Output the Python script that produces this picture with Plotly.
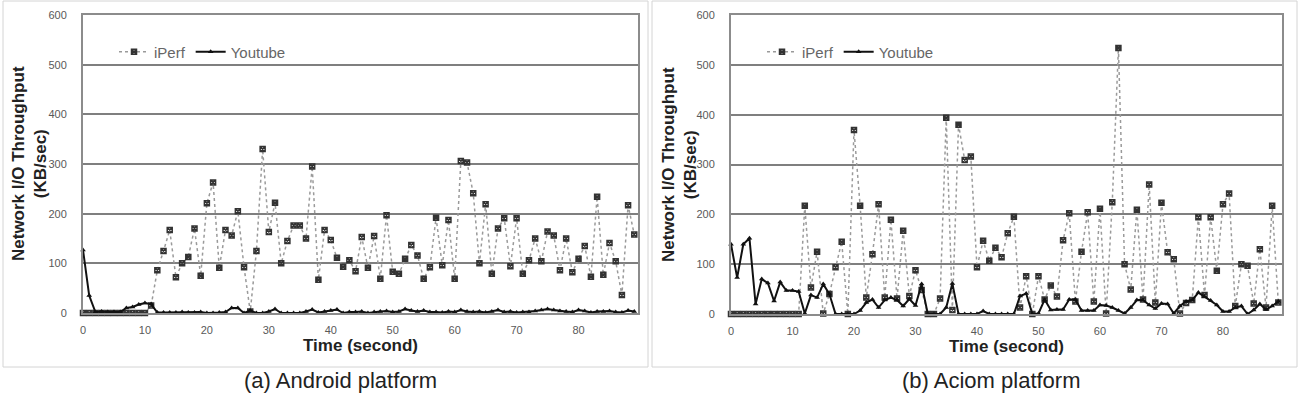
import plotly.graph_objects as go

W, H = 1305, 393

seconds = list(range(90))
x_ticks = [0, 10, 20, 30, 40, 50, 60, 70, 80]
y_ticks = [0, 100, 200, 300, 400, 500, 600]

android_iperf = [0, 0, 0, 0, 0, 0, 0, 0, 0, 0,
                 0, 15, 86, 125, 167, 72, 100, 113, 170, 75,
                 221, 263, 91, 167, 156, 205, 92, 3, 125, 330,
                 163, 222, 100, 145, 176, 176, 150, 295, 67, 167,
                 147, 111, 93, 106, 84, 153, 91, 155, 69, 197,
                 83, 79, 109, 137, 116, 69, 92, 192, 96, 187,
                 69, 306, 303, 241, 100, 219, 79, 170, 191, 94,
                 191, 79, 106, 150, 104, 164, 156, 86, 150, 82,
                 109, 135, 73, 234, 77, 141, 104, 36, 217, 158]

android_youtube = [127, 35, 2, 3, 2, 2, 2, 10, 12, 17,
                   20, 18, 1, 1, 1, 1, 2, 1, 1, 2,
                   0, 0, 1, 2, 10, 10, 0, 5, 0, 0,
                   3, 8, 0, 0, 0, 0, 3, 7, 1, 3,
                   5, 7, 0, 2, 2, 3, 0, 2, 3, 4,
                   2, 3, 8, 5, 3, 5, 2, 2, 1, 3,
                   2, 6, 3, 2, 3, 1, 3, 6, 2, 3,
                   1, 2, 2, 4, 6, 8, 6, 4, 3, 2,
                   6, 4, 1, 3, 3, 4, 2, 1, 5, 3]

aciom_iperf = [0, 0, 0, 0, 0, 0, 0, 0, 0, 0,
               0, 0, 217, 53, 125, 1, 40, 94, 145, 0,
               369, 217, 33, 120, 220, 33, 189, 31, 167, 36,
               88, 48, 0, 0, 31, 394, 8, 380, 309, 316,
               94, 147, 107, 133, 114, 162, 195, 13, 76, 0,
               76, 29, 57, 35, 148, 202, 25, 125, 204, 25,
               211, 1, 224, 534, 100, 49, 209, 29, 260, 23,
               223, 124, 110, 1, 22, 28, 194, 38, 194, 87,
               220, 242, 16, 100, 97, 21, 130, 13, 217, 23]

aciom_youtube = [140, 73, 140, 152, 20, 70, 62, 26, 64, 47,
                 47, 45, 1, 38, 33, 60, 40, 0, 0, 0,
                 0, 7, 23, 29, 13, 28, 33, 28, 16, 30,
                 17, 60, 0, 0, 0, 13, 61, 0, 0, 0,
                 0, 6, 0, 0, 0, 0, 0, 36, 41, 0,
                 1, 29, 8, 9, 9, 29, 29, 7, 7, 7,
                 18, 17, 13, 7, 1, 13, 28, 28, 18, 11,
                 21, 20, 1, 16, 25, 28, 43, 35, 27, 18,
                 5, 5, 13, 16, 0, 8, 20, 9, 16, 25]

FONT = "Arial, Liberation Sans, sans-serif"

fig = go.Figure()

def add_pair(iperf, youtube, xa, ya, leg):
    fig.add_trace(go.Scatter(
        x=seconds, y=iperf, name="iPerf", mode="lines+markers",
        line=dict(color="#9a9a9a", width=1.5, dash="dot"),
        marker=dict(symbol="square-x-open", size=5, color="#333333",
                    line=dict(width=1.5, color="#333333")),
        xaxis=xa, yaxis=ya, legend=leg, cliponaxis=False))
    fig.add_trace(go.Scatter(
        x=seconds, y=youtube, name="Youtube", mode="lines+markers",
        line=dict(color="#111111", width=2),
        marker=dict(symbol="triangle-up", size=5, color="#111111"),
        xaxis=xa, yaxis=ya, legend=leg, cliponaxis=False))

add_pair(android_iperf, android_youtube, "x", "y", "legend")
add_pair(aciom_iperf, aciom_youtube, "x2", "y2", "legend2")

def px(v):
    return v / W

def py(v):
    return 1 - v / H

xaxis_common = dict(
    range=[0, 89.6], tickvals=x_ticks, showgrid=False, zeroline=False,
    showline=True, mirror=True, linecolor="#8c8c8c", linewidth=2,
    ticks="", ticklabelstandoff=6,
    tickfont=dict(family=FONT, size=11, color="#595959"),
    title=dict(text="<b>Time (second)</b>", standoff=2,
               font=dict(family=FONT, size=17, color="#222222")),
    automargin=False,
)
yaxis_common = dict(
    range=[0, 600], tickvals=y_ticks, showgrid=True, gridcolor="#7f7f7f",
    gridwidth=2, zeroline=False, showline=True, mirror=True,
    linecolor="#8c8c8c", linewidth=2, ticks="", ticklabelstandoff=12,
    tickfont=dict(family=FONT, size=11, color="#595959"),
    automargin=False,
)

fig.update_layout(
    width=W, height=H, margin=dict(l=0, r=0, t=0, b=0),
    paper_bgcolor="white", plot_bgcolor="white",
    font=dict(family=FONT),
    xaxis=dict(domain=[px(83), px(638)], anchor="y", **xaxis_common),
    yaxis=dict(domain=[py(313), py(15)], anchor="x", **yaxis_common),
    xaxis2=dict(domain=[px(731), px(1282)], anchor="y2", **xaxis_common),
    yaxis2=dict(domain=[py(314), py(15)], anchor="x2", **yaxis_common),
    legend=dict(orientation="h", x=px(114), y=py(52), xanchor="left", yanchor="middle",
                bgcolor="rgba(0,0,0,0)", font=dict(family=FONT, size=15, color="#666666"),
                itemwidth=30, tracegroupgap=0),
    legend2=dict(orientation="h", x=px(762), y=py(52), xanchor="left", yanchor="middle",
                 bgcolor="rgba(0,0,0,0)", font=dict(family=FONT, size=15, color="#666666"),
                 itemwidth=30, tracegroupgap=0),
    showlegend=True,
)

shapes = []
for x0, x1 in [(3, 648), (652, 1297)]:
    shapes.append(dict(type="rect", xref="paper", yref="paper",
                       x0=px(x0), x1=px(x1), y0=py(367), y1=py(1),
                       line=dict(color="#d4d4d4", width=1), fillcolor="rgba(0,0,0,0)",
                       layer="below"))
fig.update_layout(shapes=shapes)

annotations = []
for xc, cap in [(341, "(a) Android platform"), (992, "(b) Aciom platform")]:
    annotations.append(dict(xref="paper", yref="paper", x=px(xc), y=py(380),
                            text=cap, showarrow=False, xanchor="center", yanchor="middle",
                            font=dict(family=FONT, size=22, color="#222222")))
for xc in [30, 680]:
    annotations.append(dict(xref="paper", yref="paper", x=px(xc), y=py(164),
                            text="<b>Network I/O Throughput<br>(KB/sec)</b>",
                            showarrow=False, textangle=-90, xanchor="center", yanchor="middle",
                            font=dict(family=FONT, size=17, color="#222222")))
fig.update_layout(annotations=annotations)

fig.write_html("out.html")
